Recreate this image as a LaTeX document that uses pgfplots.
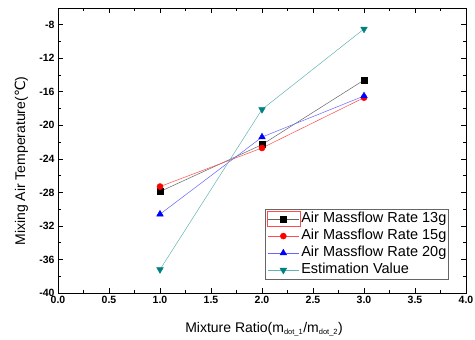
\documentclass[border=0pt]{standalone}
\usepackage{fontspec}
\setmainfont{Liberation Sans}
\newfontfamily\dejavu{DejaVu Sans}
\usepackage{pgfplots}
\pgfplotsset{compat=1.18}
\definecolor{teal2}{RGB}{0,128,128}
\pgfplotsset{
  longlegend/.style={legend image code/.code={\draw[mark repeat=2,mark phase=2,##1] plot coordinates {(0cm,0cm)(0.55cm,0cm)(1.1cm,0cm)};}},
  redboxlegend/.style={legend image code/.code={\draw[red!70, line width=0.5pt] (-0.03cm,-0.26cm) rectangle (1.13cm,0.26cm);
    \draw[mark repeat=2,mark phase=2,##1] plot coordinates {(0cm,0cm)(0.55cm,0cm)(1.1cm,0cm)};}}
}
\begin{document}
\begin{tikzpicture}
\begin{axis}[
  name=ax,
  scale only axis,
  width=408pt, height=285pt,
  xmin=0, xmax=4, ymin=-40, ymax=-6,
  xtick={0,0.5,...,4}, ytick={-40,-36,...,-8},
  minor x tick num=1, minor y tick num=1,
  tick align=inside,
  major tick length=5pt, minor tick length=3pt,
  tick style={black, line width=0.7pt},
  axis line style={line width=0.9pt},
  /pgf/number format/assume math mode=true,
  xticklabel style={/pgf/number format/.cd, fixed, fixed zerofill, precision=1},
  yticklabel style={/pgf/number format/.cd, fixed, precision=0},
  tick label style={font=\fontsize{10.5}{12}\selectfont\bfseries},
  xlabel={Mixture Ratio(m\textsubscript{\fontsize{7.5}{8}\selectfont dot\_1}/m\textsubscript{\fontsize{7.5}{8}\selectfont dot\_2})},
  ylabel={Mixing Air Temperature({\dejavu ℃})},
  label style={font=\fontsize{14}{16}\selectfont},
  xlabel style={at={(axis description cs:0.505,-0.137)}, anchor=base},
  ylabel style={at={(axis description cs:-0.09,0.463)}, anchor=center},
  legend style={at={(rel axis cs:0.958,0.046)}, anchor=south east,
    draw=gray!80!black, line width=0.6pt, font=\fontsize{14.5}{16}\selectfont,
    row sep=0pt, inner sep=1pt,
    nodes={text height=11pt, text depth=3.6pt, inner sep=1.2pt}},
  legend cell align=left,
  longlegend,
  every axis plot/.append style={line width=0.5pt},
]
\addplot[black!60, mark=square*, mark size=3pt, mark options={black, fill=black}, redboxlegend]
  coordinates {(1,-27.9) (2,-22.3) (3,-14.6)};
\addlegendentry{Air Massflow Rate 13g}
\addplot[red!70, mark=*, mark size=3pt, mark options={red, fill=red}] coordinates {(1,-27.3) (2,-22.7) (3,-16.7)};
\addlegendentry{Air Massflow Rate 15g}
\addplot[blue!60, mark=triangle*, mark size=3.8pt, mark options={blue, fill=blue}] coordinates {(1,-30.6) (2,-21.4) (3,-16.5)};
\addlegendentry{Air Massflow Rate 20g}
\addplot[teal2!60, mark=triangle*, mark size=3.8pt, mark options={teal2, fill=teal2, rotate=180}] coordinates {(1,-37.2) (2,-18.1) (3,-8.5)};
\addlegendentry{Estimation Value}
\end{axis}
\pgfresetboundingbox
\path[use as bounding box] ([shift={(-58pt,-46pt)}]ax.south west) rectangle ([shift={(9pt,8pt)}]ax.north east);
\end{tikzpicture}
\end{document}
